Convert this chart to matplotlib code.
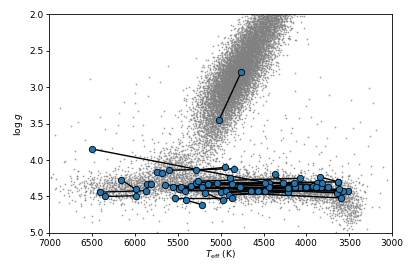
import numpy as np
import matplotlib.pyplot as plt

teff_a = [4760, 6500, 5600, 5290, 6405, 6351, 6164, 5748, 5406, 5538,
          5861, 5655, 5562, 5492, 5468, 5418, 5348, 5290, 5263, 5224,
          5188, 5154, 5048, 5001, 4944, 4893, 4776, 4901, 4485, 4442,
          4438, 4368, 3847, 4081, 4019]
logg_a = [2.79, 3.85, 4.14, 4.14, 4.44, 4.50, 4.27, 4.17, 4.55, 4.52,
          4.33, 4.34, 4.37, 4.40, 4.37, 4.42, 4.35, 4.31, 4.29, 4.37,
          4.45, 4.33, 4.32, 4.44, 4.43, 4.25, 4.37, 4.48, 4.43, 4.31,
          4.37, 4.19, 4.23, 4.37, 4.37]
teff_b = [5020, 4480, 4840, 4950, 5877, 5993, 5993, 5690, 5224, 4866,
          5814, 4560, 3750, 4010, 4139, 4652, 3882, 4279, 4073, 3645,
          4975, 3832, 3634, 3595, 3521, 4870, 3571, 4217, 3618, 3921,
          4147, 4213, 3633, 3824, 3890]
logg_b = [3.45, 4.31, 4.12, 4.10, 4.42, 4.49, 4.40, 4.18, 4.61, 4.52,
          4.33, 4.42, 4.37, 4.37, 4.37, 4.43, 4.31, 4.32, 4.25, 4.45,
          4.55, 4.37, 4.30, 4.52, 4.42, 4.33, 4.43, 4.44, 4.40, 4.35,
          4.32, 4.38, 4.30, 4.31, 4.37]

# grey field sample, described as density blobs:
# centre Teff, centre logg, spread Teff, spread logg, tilt (dlogg/dTeff), number of stars
blob_teff = [5150, 5060, 4990, 4910, 4840, 4750, 4640, 4530, 4420,
             6600, 6300, 5950, 5650, 5480, 5300, 5000, 4700, 4400, 4100, 3800, 3570, 3450,
             5000, 5800, 4400]
blob_logg = [3.90, 3.60, 3.35, 3.10, 2.88, 2.65, 2.42, 2.20, 2.00,
             4.36, 4.38, 4.36, 4.20, 4.00, 4.33, 4.35, 4.36, 4.37, 4.39, 4.42, 4.55, 4.72,
             3.90, 4.40, 4.30]
blob_steff = [100, 140, 170, 190, 200, 200, 190, 180, 170,
              200, 180, 180, 150, 130, 180, 180, 180, 170, 160, 140, 90, 70,
              1000, 600, 500]
blob_slogg = [0.12, 0.12, 0.12, 0.12, 0.12, 0.12, 0.12, 0.12, 0.12,
              0.12, 0.10, 0.10, 0.14, 0.13, 0.10, 0.10, 0.10, 0.09, 0.08, 0.09, 0.11, 0.10,
              0.55, 0.25, 0.18]
blob_tilt = [0.0006, 0.0006, 0.0006, 0.0006, 0.0006, 0.0006, 0.0006, 0.0006, 0.0006,
             0, 0, 0, 0, 0, 0, 0, 0, 0, 0, 0.0002, 0.0006, 0.001,
             0, 0, 0]
blob_n = [100, 320, 650, 1100, 1400, 1200, 950, 750, 550,
          60, 220, 350, 380, 170, 420, 420, 420, 420, 400, 380, 260, 110,
          280, 150, 200]


def halton(i, b):
    f, r = 1.0, 0.0
    while i > 0:
        f /= b
        r += f * (i % b)
        i //= b
    return r


# spread each blob with a deterministic (Halton + Box-Muller) pattern
field_t, field_g = [], []
k = 1
for tc, gc, st, sg, tilt, n in zip(blob_teff, blob_logg, blob_steff, blob_slogg, blob_tilt, blob_n):
    for _ in range(n):
        u1, u2 = halton(k, 2), halton(k, 3)
        k += 1
        r = np.sqrt(-2 * np.log(max(u1, 1e-6)))
        dt = st * r * np.cos(2 * np.pi * u2)
        dg = sg * r * np.sin(2 * np.pi * u2) + tilt * dt
        field_t.append(tc + dt)
        field_g.append(gc + dg)

plt.rcParams['font.size'] = 6.5

fig = plt.figure(figsize=(4.15, 2.77), dpi=100)
ax = fig.add_axes([0.119, 0.159, 0.826, 0.79])

ax.scatter(field_t, field_g, s=1.5, color='grey', alpha=0.75, linewidths=0, zorder=1)

for i in range(len(teff_a)):
    ax.plot([teff_a[i], teff_b[i]], [logg_a[i], logg_b[i]], '-', color='black', lw=1, zorder=2)
ax.plot(teff_a, logg_a, 'o', color='#1f77b4', mec='black', mew=0.6, ms=4.6, zorder=3)
ax.plot(teff_b, logg_b, 'o', color='#1f77b4', mec='black', mew=0.6, ms=4.6, zorder=3)

ax.set_xlim(7000, 3000)
ax.set_ylim(5.0, 2.0)
ax.set_xlabel(r'$T_{\rm eff}$ (K)', labelpad=1)
ax.set_ylabel(r'log $g$', labelpad=3)
ax.tick_params(length=2.5, width=0.6, pad=1.5)
for s in ax.spines.values():
    s.set_linewidth(0.6)

fig.savefig('out.png', dpi=100)
